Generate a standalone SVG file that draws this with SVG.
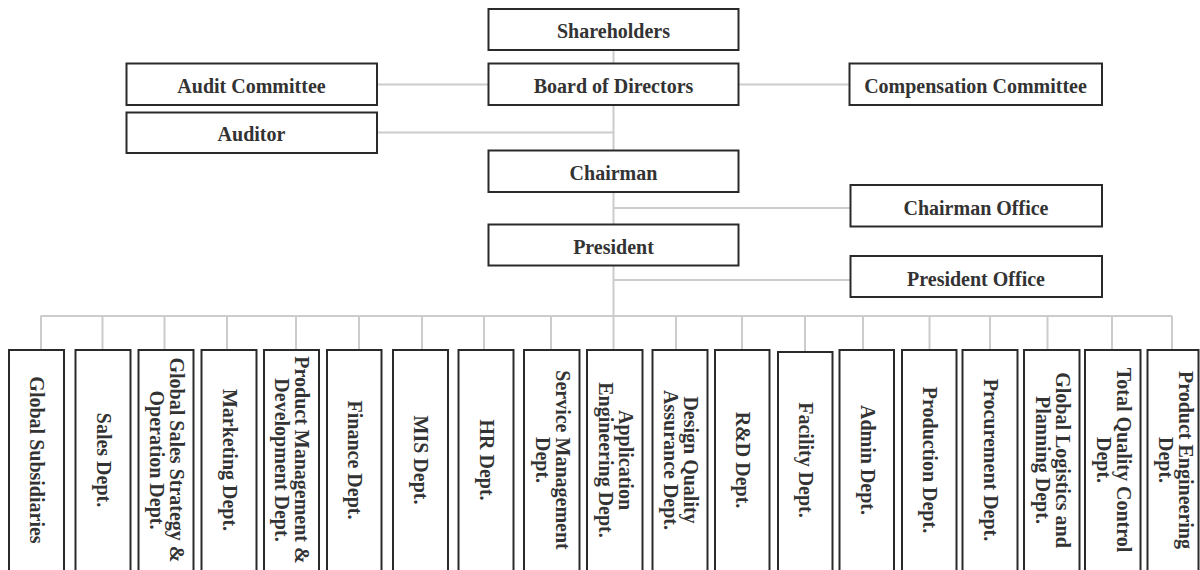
<svg xmlns="http://www.w3.org/2000/svg" width="1200" height="570" viewBox="0 0 1200 570">
  <style>
    .box { fill: #ffffff; stroke: #2a2a2a; stroke-width: 2; }
    .lbl { font-family: "Liberation Serif", "Times New Roman", serif; font-weight: bold; font-size: 20px; fill: #333333; text-anchor: middle; }
    .link { stroke: #cccccc; stroke-width: 2; fill: none; }
  </style>
  <rect width="1200" height="570" fill="#ffffff"/>

  <!-- connectors -->
  <g id="connectors" class="link">
    <path d="M613.5 50 V316"/>
    <path d="M377 84.5 H488"/>
    <path d="M738 84.5 H850"/>
    <path d="M377 132.5 H613.5"/>
    <path d="M613.5 208 H850"/>
    <path d="M613.5 280 H850"/>
    <path d="M40.5 316 H1172"/>
    <path d="M41 316 V350 M102.5 316 V350 M164.5 316 V350 M227 316 V350 M296 316 V350 M359 316 V350 M422 316 V350 M484 316 V350 M551 316 V356 M613.5 316 V350 M676 316 V350 M742 316 V350 M805 316 V352 M863 316 V350 M929.5 316 V350 M990 316 V350 M1047.5 316 V350 M1112 316 V350 M1172 316 V350"/>
  </g>

  <!-- upper tiers -->
  <g id="shareholders"><rect class="box" x="488.5" y="9" width="250" height="41"/><text class="lbl" x="613.5" y="38">Shareholders</text></g>
  <g id="board"><rect class="box" x="488.5" y="63.5" width="250" height="41.5"/><text class="lbl" x="613.5" y="92.5">Board of Directors</text></g>
  <g id="audit-committee"><rect class="box" x="126.5" y="63.5" width="250.5" height="41.5"/><text class="lbl" x="251.5" y="92.5">Audit Committee</text></g>
  <g id="compensation-committee"><rect class="box" x="849.5" y="63.5" width="252.5" height="41.5"/><text class="lbl" x="975.5" y="92.5">Compensation Committee</text></g>
  <g id="auditor"><rect class="box" x="126.5" y="112.5" width="250.5" height="40.5"/><text class="lbl" x="251.5" y="141">Auditor</text></g>
  <g id="chairman"><rect class="box" x="488.5" y="150.5" width="250" height="41.5"/><text class="lbl" x="613.5" y="180">Chairman</text></g>
  <g id="chairman-office"><rect class="box" x="850.5" y="185" width="251.5" height="41.5"/><text class="lbl" x="976" y="214.5">Chairman Office</text></g>
  <g id="president"><rect class="box" x="488.5" y="224.5" width="250" height="41"/><text class="lbl" x="613.5" y="253.5">President</text></g>
  <g id="president-office"><rect class="box" x="850.5" y="256" width="251.5" height="41"/><text class="lbl" x="976" y="285.5">President Office</text></g>

  <!-- departments: labels rotated to read downwards -->
  <g id="dept-global-subsidiaries"><rect class="box" x="9" y="350" width="55" height="222"/><text class="lbl" transform="translate(36.5 460) rotate(90)" y="6.5">Global Subsidiaries</text></g>
  <g id="dept-sales"><rect class="box" x="75.5" y="350" width="55" height="222"/><text class="lbl" transform="translate(103 460) rotate(90)" y="6.5">Sales Dept.</text></g>
  <g id="dept-global-sales-strategy"><rect class="box" x="138.5" y="350" width="55" height="222"/><text class="lbl" transform="translate(166 460) rotate(90)"><tspan x="0" y="-3.5">Global Sales Strategy &amp;</tspan><tspan x="0" y="16.5">Operation Dept.</tspan></text></g>
  <g id="dept-marketing"><rect class="box" x="201.5" y="350" width="55" height="222"/><text class="lbl" transform="translate(229 460) rotate(90)" y="6.5">Marketing Dept.</text></g>
  <g id="dept-product-management"><rect class="box" x="264" y="350" width="55" height="222"/><text class="lbl" transform="translate(291.5 460) rotate(90)"><tspan x="0" y="-3.5">Product Management &amp;</tspan><tspan x="0" y="16.5">Development Dept.</tspan></text></g>
  <g id="dept-finance"><rect class="box" x="327" y="350" width="54.5" height="222"/><text class="lbl" transform="translate(354 460) rotate(90)" y="6.5">Finance Dept.</text></g>
  <g id="dept-mis"><rect class="box" x="393" y="350" width="55" height="222"/><text class="lbl" transform="translate(420.5 460) rotate(90)" y="6.5">MIS Dept.</text></g>
  <g id="dept-hr"><rect class="box" x="458.5" y="350" width="55" height="222"/><text class="lbl" transform="translate(486 460) rotate(90)" y="6.5">HR Dept.</text></g>
  <g id="dept-service-management"><rect class="box" x="524" y="350" width="55.5" height="222"/><text class="lbl" transform="translate(552 460) rotate(90)"><tspan x="0" y="-3.5">Service Management</tspan><tspan x="0" y="16.5">Dept.</tspan></text></g>
  <g id="dept-application-engineering"><rect class="box" x="587" y="350" width="55.5" height="222"/><text class="lbl" transform="translate(615 460) rotate(90)"><tspan x="0" y="-3.5">Application</tspan><tspan x="0" y="16.5">Engineering Dept.</tspan></text></g>
  <g id="dept-design-quality"><rect class="box" x="652.5" y="350" width="55" height="222"/><text class="lbl" transform="translate(680 460) rotate(90)"><tspan x="0" y="-3.5">Design Quality</tspan><tspan x="0" y="16.5">Assurance Dept.</tspan></text></g>
  <g id="dept-rnd"><rect class="box" x="715" y="350" width="54.5" height="222"/><text class="lbl" transform="translate(742 460) rotate(90)" y="6.5">R&amp;D Dept.</text></g>
  <g id="dept-facility"><rect class="box" x="778" y="352" width="54.5" height="220"/><text class="lbl" transform="translate(805 460) rotate(90)" y="6.5">Facility Dept.</text></g>
  <g id="dept-admin"><rect class="box" x="839.5" y="350" width="54.5" height="222"/><text class="lbl" transform="translate(867 460) rotate(90)" y="6.5">Admin Dept.</text></g>
  <g id="dept-production"><rect class="box" x="902" y="350" width="54.5" height="222"/><text class="lbl" transform="translate(929 460) rotate(90)" y="6.5">Production Dept.</text></g>
  <g id="dept-procurement"><rect class="box" x="962.5" y="350" width="55" height="222"/><text class="lbl" transform="translate(990 460) rotate(90)" y="6.5">Procurement Dept.</text></g>
  <g id="dept-global-logistics"><rect class="box" x="1024" y="350" width="55.5" height="222"/><text class="lbl" transform="translate(1052 460) rotate(90)"><tspan x="0" y="-3.5">Global Logistics and</tspan><tspan x="0" y="16.5">Planning Dept.</tspan></text></g>
  <g id="dept-total-quality"><rect class="box" x="1085" y="350" width="55.5" height="222"/><text class="lbl" transform="translate(1113 460) rotate(90)"><tspan x="0" y="-3.5">Total Quality Control</tspan><tspan x="0" y="16.5">Dept.</tspan></text></g>
  <g id="dept-product-engineering"><rect class="box" x="1147.5" y="350" width="51" height="222"/><text class="lbl" transform="translate(1175 460) rotate(90)"><tspan x="0" y="-3.5">Product Engineering</tspan><tspan x="0" y="16.5">Dept.</tspan></text></g>
</svg>
